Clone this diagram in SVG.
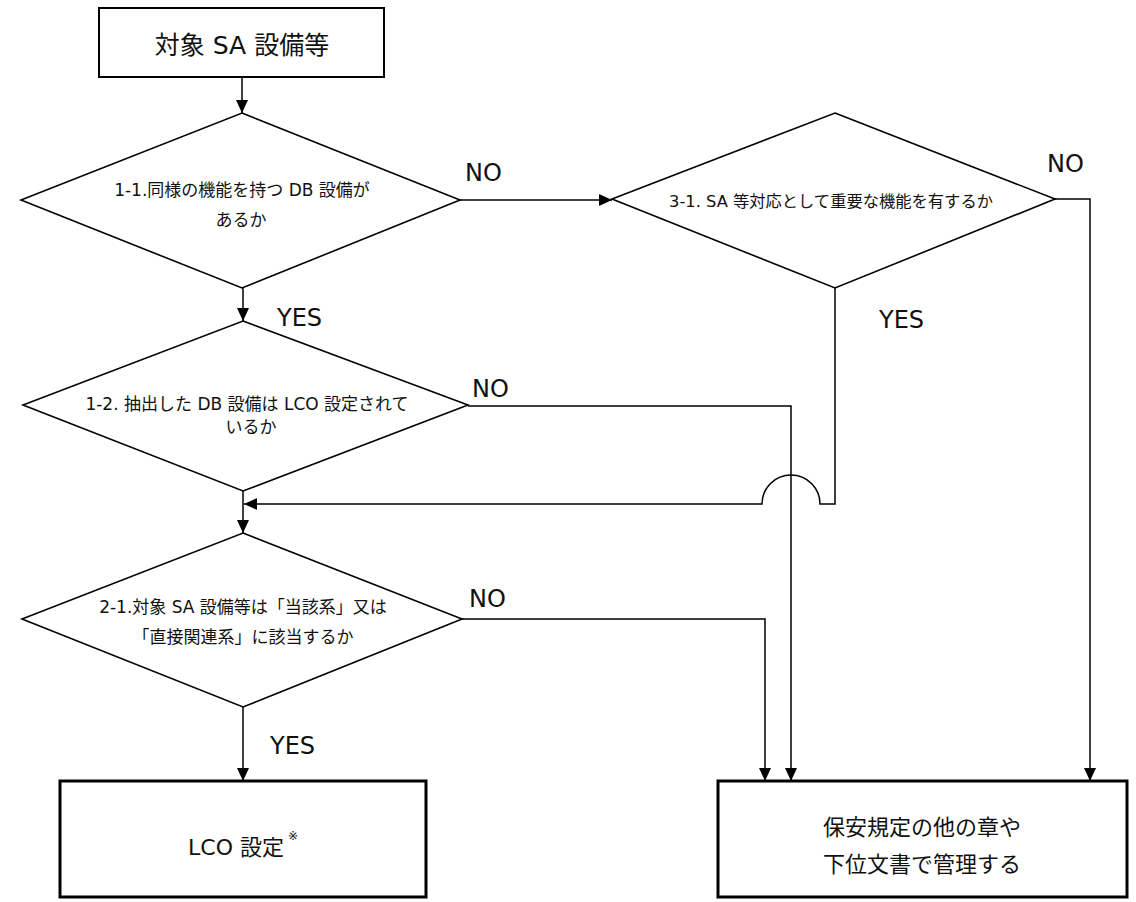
<svg xmlns="http://www.w3.org/2000/svg" width="1136" height="902" viewBox="0 0 1136 902">
<defs>
<style>
.bg{fill:#fff}
.box{fill:#fff;stroke:#000;stroke-width:2}
.boxb{fill:#fff;stroke:#000;stroke-width:3}
.dia{fill:#fff;stroke:#000;stroke-width:1.6}
.con{fill:none;stroke:#000;stroke-width:1.5}
text{font-family:"DejaVu Sans","Noto Sans CJK JP",sans-serif;fill:#111}
.t16{font-size:17px;text-anchor:middle}
.t22{font-size:22px;text-anchor:middle}
.t25{font-size:25px;text-anchor:middle}
.lbl{font-size:24px}
</style>
<marker id="arr" markerUnits="userSpaceOnUse" markerWidth="14" markerHeight="14" viewBox="0 0 14 14" refX="13" refY="7" orient="auto">
<path d="M0,1 L13,7 L0,13 Z" fill="#000"/>
</marker>
</defs>
<rect class="bg" x="0" y="0" width="1136" height="902"/>

<g id="connectors">
<path class="con" d="M242,77 V113" marker-end="url(#arr)"/>
<path class="con" d="M243,288 V321" marker-end="url(#arr)"/>
<path class="con" d="M243,491 V533" marker-end="url(#arr)"/>
<path class="con" d="M243,707 V781" marker-end="url(#arr)"/>
<path class="con" d="M460,200 H612" marker-end="url(#arr)"/>
<path class="con" d="M468,406 H791 V781" marker-end="url(#arr)"/>
<path class="con" d="M462,619 H765 V781" marker-end="url(#arr)"/>
<path class="con" d="M1055,199 H1090 V781" marker-end="url(#arr)"/>
<path class="con" d="M835,288 V504 H820 A29,29 0 0 0 762,504 H244" marker-end="url(#arr)"/>
<text class="lbl" x="465" y="181">NO</text>
<text class="lbl" x="1047" y="172">NO</text>
<text class="lbl" x="277" y="326">YES</text>
<text class="lbl" x="879" y="328">YES</text>
<text class="lbl" x="472" y="397">NO</text>
<text class="lbl" x="469" y="607">NO</text>
<text class="lbl" x="270" y="754">YES</text>
</g>

<g id="start">
<rect class="box" x="99" y="8" width="285" height="69"/>
<text class="t25" x="242" y="54">対象 SA 設備等</text>
</g>

<g id="q11">
<polygon class="dia" points="242,113 460,200 242,288 21,200"/>
<text class="t16" x="242" y="196">1-1.同様の機能を持つ DB 設備が</text>
<text class="t16" x="241" y="226">あるか</text>
</g>

<g id="q12">
<polygon class="dia" points="243,321 468,405 243,491 23,405"/>
<text class="t16" x="247" y="410">1-2.  抽出した DB 設備は LCO 設定されて</text>
<text class="t16" x="251" y="433">いるか</text>
</g>

<g id="q21">
<polygon class="dia" points="243,533 462,619 243,707 22,619"/>
<text class="t16" x="243" y="613">2-1.対象 SA 設備等は「当該系」又は</text>
<text class="t16" x="243" y="643">「直接関連系」に該当するか</text>
</g>

<g id="q31">
<polygon class="dia" points="835,113 1055,199 835,288 612,199"/>
<text class="t16" x="831" y="207" style="font-size:16.3px">3-1. SA 等対応として重要な機能を有するか</text>
</g>

<g id="lco">
<rect class="boxb" x="60" y="781" width="366" height="116"/>
<text class="t22" x="236" y="855">LCO 設定</text>
<text x="293" y="840" style="font-size:12px;text-anchor:middle">※</text>
</g>

<g id="other">
<rect class="boxb" x="718" y="781" width="409" height="116"/>
<text class="t22" x="922" y="835">保安規定の他の章や</text>
<text class="t22" x="922" y="872">下位文書で管理する</text>
</g>
</svg>
